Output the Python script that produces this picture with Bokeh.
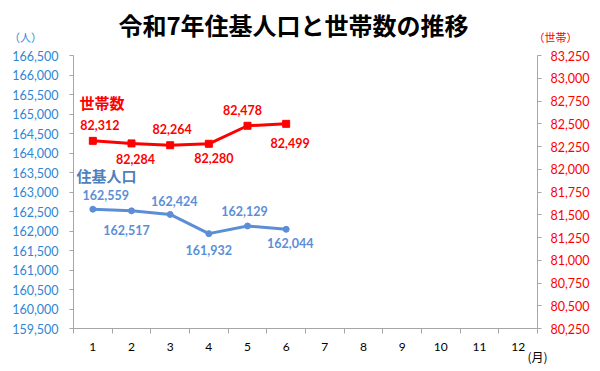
from bokeh.plotting import figure
from bokeh.layouts import column, row
from bokeh.models import (Range1d, LinearAxis, FixedTicker, NumeralTickFormatter,
                          ColumnDataSource, LabelSet, Label)
from bokeh.core.properties import value
from bokeh.embed import file_html
from bokeh.resources import INLINE

months = [1, 2, 3, 4, 5, 6]
month_ticks = list(range(1, 13))
population = [162559, 162517, 162424, 161932, 162129, 162044]
households = [82312, 82284, 82264, 82280, 82478, 82499]
title_text = "令和7年住基人口と世帯数の推移"

# data-label nudges (pixels), as placed in the reference
pop_label_dx = [13, -5, 4, 0, -3, 4]
pop_label_dy = [14, -19, 13, -16, 15, -14]
hh_label_dx = [7, 4, 2, 5, -5, 4]
hh_label_dy = [16, -16, 16, -14, 16, -19]

BLUE_TICK = "#2E86D4"
BLUE_LINE = "#5B8ED6"
RED = "#FF0000"
GRAY = "#A6A6A6"
JP = "Noto Sans CJK JP"
NUM = "Lato"
W = 592
TOP_H = 47

# ---- header strip (title and unit captions), frame = whole canvas ----
head = figure(width=W, height=TOP_H, output_backend="svg", toolbar_location=None,
              x_range=Range1d(0, 1), y_range=Range1d(0, 1),
              x_axis_location=None, y_axis_location=None,
              min_border=0, min_border_left=0, min_border_right=0,
              min_border_top=0, min_border_bottom=0)
head.outline_line_color = None
head.xgrid.visible = False
head.ygrid.visible = False
head.add_layout(Label(x=293, y=23, x_units="screen", y_units="screen", text=title_text,
                      text_align="center", text_baseline="middle", text_font=JP,
                      text_font_style="bold", text_font_size="24px", text_color="#000000"))
head.add_layout(Label(x=25, y=11, x_units="screen", y_units="screen", text="（人）",
                      text_align="center", text_baseline="middle", text_font=JP,
                      text_font_size="11px", text_color=BLUE_TICK))
head.add_layout(Label(x=555, y=11, x_units="screen", y_units="screen", text="（世帯）",
                      text_align="center", text_baseline="middle", text_font=JP,
                      text_font_size="11px", text_color=RED))

# ---- main chart ----
p = figure(width=W, height=371 - TOP_H, output_backend="svg", toolbar_location=None,
           x_range=Range1d(0.5, 12.5), y_range=Range1d(159500, 166500),
           min_border_left=73, min_border_right=54, min_border_top=8,
           min_border_bottom=43)
p.outline_line_color = None
p.xgrid.visible = False
p.ygrid.visible = False
p.extra_y_ranges = {"hh": Range1d(80250, 83250)}

# x axis
xa = p.xaxis[0]
xa.ticker = FixedTicker(ticks=month_ticks, minor_ticks=[m - 0.5 for m in month_ticks] + [12.5])
xa.major_tick_out = 0
xa.major_tick_in = 0
xa.minor_tick_out = 5
xa.minor_tick_in = 0
xa.minor_tick_line_color = GRAY
xa.axis_line_color = GRAY
xa.major_label_text_font = NUM
xa.major_label_text_font_size = "12px"
xa.major_label_text_color = "#000000"
xa.major_label_standoff = 9
xa.axis_label = "(月)"
xa.axis_label_align = "end"
xa.axis_label_standoff = -6
xa.axis_label_text_font = JP
xa.axis_label_text_font_size = "12px"
xa.axis_label_text_font_style = "normal"
xa.axis_label_text_color = "#000000"

# left axis
ya = p.yaxis[0]
ya.ticker = FixedTicker(ticks=list(range(159500, 166501, 500)))
ya.formatter = NumeralTickFormatter(format="0,0")
ya.axis_line_color = GRAY
ya.major_tick_line_color = GRAY
ya.major_tick_out = 4
ya.major_tick_in = 0
ya.minor_tick_line_color = None
ya.major_label_text_font = NUM
ya.major_label_text_font_size = "12.5px"
ya.major_label_text_color = BLUE_TICK
ya.major_label_standoff = 11

# right axis
ra = LinearAxis(y_range_name="hh",
                ticker=FixedTicker(ticks=list(range(80250, 83251, 250))),
                formatter=NumeralTickFormatter(format="0,0"))
ra.axis_line_color = GRAY
ra.major_tick_line_color = GRAY
ra.major_tick_out = 4
ra.major_tick_in = 0
ra.minor_tick_line_color = None
ra.major_label_text_font = NUM
ra.major_label_text_font_size = "12.5px"
ra.major_label_text_color = RED
ra.major_label_standoff = 9
p.add_layout(ra, "right")

# series
pop_src = ColumnDataSource(dict(
    x=months, y=population, lab=[f"{v:,}" for v in population],
    dx=pop_label_dx, dy=pop_label_dy))
hh_src = ColumnDataSource(dict(
    x=months, y=households, lab=[f"{v:,}" for v in households],
    dx=hh_label_dx, dy=hh_label_dy))

p.line("x", "y", source=pop_src, line_color=BLUE_LINE, line_width=3)
p.scatter("x", "y", source=pop_src, marker="circle", size=6, color=BLUE_LINE)
p.line("x", "y", source=hh_src, y_range_name="hh", line_color=RED, line_width=3)
p.scatter("x", "y", source=hh_src, y_range_name="hh", marker="square", size=7, color=RED)

p.add_layout(LabelSet(x="x", y="y", text="lab", source=pop_src,
                      x_offset="dx", y_offset="dy",
                      text_align="center", text_baseline="middle",
                      text_font=value(NUM), text_font_style="bold", text_font_size="12.5px",
                      text_color=BLUE_LINE))
p.add_layout(LabelSet(x="x", y="y", text="lab", source=hh_src, y_range_name="hh",
                      x_offset="dx", y_offset="dy",
                      text_align="center", text_baseline="middle",
                      text_font=value(NUM), text_font_style="bold", text_font_size="12.5px",
                      text_color=RED))

# series names inside the frame; screen positions from the frame's bottom-left corner
p.add_layout(Label(x=6, y=226, x_units="screen", y_units="screen", text="世帯数",
                   text_align="left", text_baseline="middle", text_font=JP,
                   text_font_style="bold", text_font_size="15px", text_color=RED))
p.add_layout(Label(x=3, y=153, x_units="screen", y_units="screen", text="住基人口",
                   text_align="left", text_baseline="middle", text_font=JP,
                   text_font_style="bold", text_font_size="15px", text_color="#4F81BD"))

layout = column(row(head, spacing=0), p, spacing=0)
open("out.html", "w").write(file_html(layout, INLINE))
